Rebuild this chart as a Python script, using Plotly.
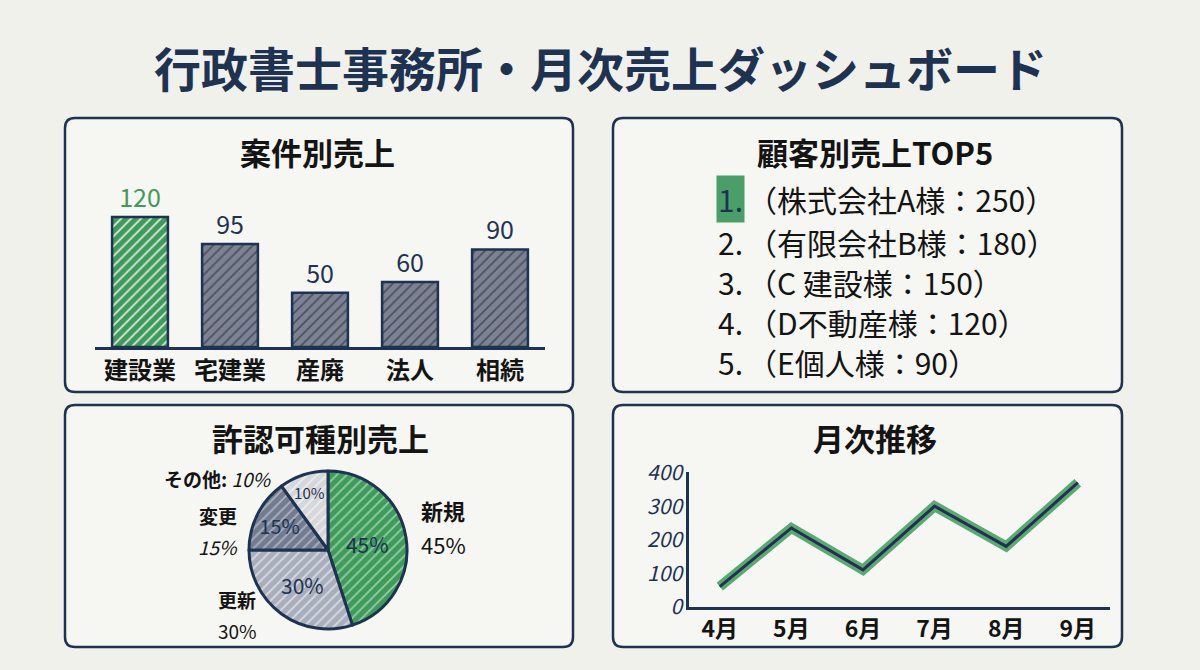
import plotly.graph_objects as go

# ---------------- data ----------------
title_text = "行政書士事務所・月次売上ダッシュボード"

case_categories = ["建設業", "宅建業", "産廃", "法人", "相続"]
case_values = [120, 95, 50, 60, 90]

top_rank = ["1.", "2.", "3.", "4.", "5."]
top_customers = ["株式会社A様", "有限会社B様", "C 建設様", "D不動産様", "E個人様"]
top_values = [250, 180, 150, 120, 90]

permit_labels = ["新規", "更新", "変更", "その他"]
permit_values = [45, 30, 15, 10]

months = ["4月", "5月", "6月", "7月", "8月", "9月"]
monthly_values = [60, 235, 110, 300, 180, 370]
monthly_ticks = [0, 100, 200, 300, 400]

# ---------------- style ----------------
W, H = 1200, 670
BG = "#f1f1ec"
PANEL = "#f6f6f2"
NAVY = "#1e3352"
GREEN = "#3f9a5c"
GREY = "#7b8296"
INK = "#141414"
FONT = "Noto Sans CJK JP"


def px(x):
    return x / W


def py(y):
    return 1 - y / H


def rounded(x0, y0, x1, y1, r=10):
    X0, X1 = px(x0), px(x1)
    Y0, Y1 = py(y0), py(y1)
    rx, ry = r / W, r / H
    return (f"M {X0+rx},{Y0} L {X1-rx},{Y0} Q {X1},{Y0} {X1},{Y0-ry} "
            f"L {X1},{Y1+ry} Q {X1},{Y1} {X1-rx},{Y1} L {X0+rx},{Y1} "
            f"Q {X0},{Y1} {X0},{Y1+ry} L {X0},{Y0-ry} Q {X0},{Y0} {X0+rx},{Y0} Z")


def note(text, x, y, size, color=INK, xanchor="center", **kw):
    return dict(text=text, x=px(x), y=py(y), xref="paper", yref="paper",
                xanchor=xanchor, yanchor="middle", showarrow=False,
                font=dict(size=size, color=color, family=FONT), **kw)


fig = go.Figure()

# ---- bar chart ----
n = len(case_values)
bar_colors = [GREEN] + [GREY] * (n - 1)
bar_fg = ["#a6dcb3"] + ["#e3e6ee"] * (n - 1)
text_colors = [GREEN] + [NAVY] * (n - 1)
fig.add_trace(go.Bar(
    x=case_categories, y=case_values,
    text=[str(v) for v in case_values], textposition="outside",
    textfont=dict(size=25, color=text_colors, family=FONT),
    cliponaxis=False, width=0.62,
    marker=dict(color=bar_colors, line=dict(color=NAVY, width=2.5),
                pattern=dict(shape="/", bgcolor=bar_colors, fgcolor=bar_fg,
                             fgopacity=0.8, size=7, solidity=0.25)),
    xaxis="x", yaxis="y", showlegend=False, hoverinfo="skip",
))

# ---- pie ----
pie_colors = [GREEN, "#a9aebb", "#737b90", "#d6d7da"]
pie_fg = ["#a6dcb3", "#e4e6ec", "#b9bfcc", "#f2f2f2"]
fig.add_trace(go.Pie(
    labels=permit_labels, values=permit_values, sort=False, direction="clockwise",
    rotation=0, texttemplate="%{value}%", textposition="inside",
    insidetextorientation="horizontal",
    textfont=dict(size=21, color=NAVY, family=FONT),
    marker=dict(colors=pie_colors, line=dict(color=NAVY, width=3),
                pattern=dict(shape="/", bgcolor=pie_colors, fgcolor=pie_fg,
                             fgopacity=0.8, size=7, solidity=0.25)),
    domain=dict(x=[px(249), px(407)], y=[py(629), py(471)]),
    showlegend=False, hoverinfo="skip",
))

# ---- line ----
fig.add_trace(go.Scatter(
    x=months, y=monthly_values, mode="lines",
    line=dict(color="rgba(63,154,92,0.85)", width=10),
    xaxis="x2", yaxis="y2", showlegend=False, hoverinfo="skip",
))
fig.add_trace(go.Scatter(
    x=months, y=monthly_values, mode="lines",
    line=dict(color=NAVY, width=3),
    xaxis="x2", yaxis="y2", showlegend=False, hoverinfo="skip",
))

shapes = []
for (x0, y0, x1, y1) in [(65, 118, 573, 392), (613, 118, 1122, 392),
                         (65, 405, 573, 647), (613, 405, 1122, 647)]:
    shapes.append(dict(type="path", path=rounded(x0, y0, x1, y1), xref="paper", yref="paper",
                       fillcolor=PANEL, line=dict(color=NAVY, width=2.5), layer="below"))

ann = []
ann.append(note(f"<b>{title_text}</b>", 600, 66, 47, NAVY))
for t, x, y in [("案件別売上", 317, 151), ("顧客別売上TOP5", 875, 151),
                ("許認可種別売上", 320, 437), ("月次推移", 875, 437)]:
    ann.append(note(f"<b>{t}</b>", x, y, 31))

# top5 list
row_y = [199, 242, 282, 322, 362]
for i, (r, c, v) in enumerate(zip(top_rank, top_customers, top_values)):
    if i == 0:
        ann.append(note(r, 716, row_y[i], 30, NAVY, xanchor="left",
                        bgcolor="#4a9e68", borderpad=1))
    else:
        ann.append(note(r, 716, row_y[i], 30, xanchor="left"))
    ann.append(note(f"（{c}：{v}）", 745, row_y[i], 30, xanchor="left"))

# pie outside labels
ann.append(note(f"<b>{permit_labels[3]}:</b> <i>{permit_values[3]}%</i>", 274, 478, 19, xanchor="right"))
ann.append(note(f"<b>{permit_labels[2]}</b>", 218, 515, 19))
ann.append(note(f"<i>{permit_values[2]}%</i>", 218, 546, 19))
ann.append(note(f"<b>{permit_labels[1]}</b>", 237, 599, 19))
ann.append(note(f"{permit_values[1]}%", 237, 630, 19))
ann.append(note(f"<b>{permit_labels[0]}</b>", 443, 510, 22))
ann.append(note(f"{permit_values[0]}%", 443, 544, 22))

fig.update_layout(
    width=W, height=H, margin=dict(l=0, r=0, t=0, b=0, autoexpand=False),
    paper_bgcolor=BG, plot_bgcolor="rgba(0,0,0,0)",
    font=dict(family=FONT, color=INK),
    shapes=shapes, annotations=ann, bargap=0.38, showlegend=False,
    xaxis=dict(domain=[px(95), px(545)], range=[-0.5, 4.5], showline=True, linecolor=NAVY,
               linewidth=2.5, ticks="", showgrid=False, zeroline=False,
               tickfont=dict(size=24, color=INK, family=FONT, weight="bold"), fixedrange=True),
    yaxis=dict(domain=[py(347), py(195.3)], range=[0, 140], visible=False, fixedrange=True),
    xaxis2=dict(domain=[px(689), px(1110)], range=[-0.43, 5.45], anchor="y2", showline=True,
                linecolor=NAVY, linewidth=2.5, ticks="", showgrid=False, zeroline=False,
                tickfont=dict(size=23, color=INK, family=FONT, weight="bold"), fixedrange=True),
    yaxis2=dict(domain=[py(606.7), py(472)], range=[0, 402], anchor="x2", showline=True,
                linecolor=NAVY, linewidth=2.5, ticks="", showgrid=False, zeroline=False,
                tickvals=monthly_ticks, tickfont=dict(size=21, color=NAVY, family=FONT, style="italic"),
                fixedrange=True),
)

fig.write_html("out.html", config={"responsive": False, "displayModeBar": False},
               post_script="document.body.style.margin='0';document.body.style.overflow='hidden';")
